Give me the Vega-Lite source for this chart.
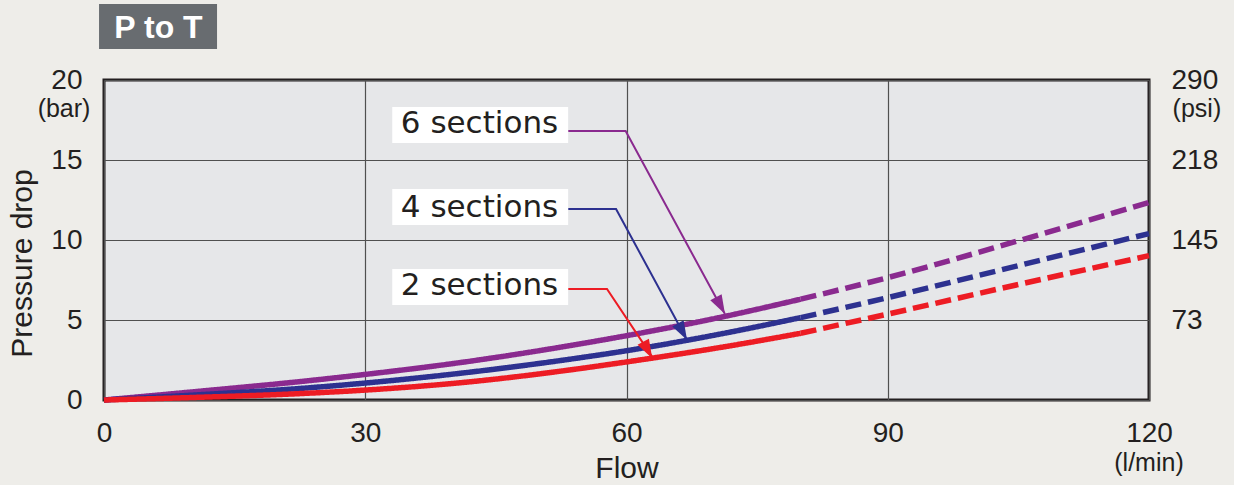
{
  "$schema": "https://vega.github.io/schema/vega-lite/v6.json",
  "width": 1045,
  "height": 320,
  "autosize": "none",
  "padding": {"left": 104, "top": 80, "right": 85, "bottom": 85},
  "background": "#eeede9",
  "datasets": {
    "curves": [
      {"section": "6 sections", "part": "measured", "flow": 0, "drop": 0},
      {"section": "6 sections", "part": "measured", "flow": 11, "drop": 0.55},
      {"section": "6 sections", "part": "measured", "flow": 22.5, "drop": 1.15},
      {"section": "6 sections", "part": "measured", "flow": 30, "drop": 1.6},
      {"section": "6 sections", "part": "measured", "flow": 41.7, "drop": 2.4},
      {"section": "6 sections", "part": "measured", "flow": 53.5, "drop": 3.4},
      {"section": "6 sections", "part": "measured", "flow": 60, "drop": 4.02},
      {"section": "6 sections", "part": "measured", "flow": 71.5, "drop": 5.25},
      {"section": "6 sections", "part": "measured", "flow": 80, "drop": 6.3},
      {"section": "6 sections", "part": "extrapolated", "flow": 80, "drop": 6.3},
      {"section": "6 sections", "part": "extrapolated", "flow": 90, "drop": 7.65},
      {"section": "6 sections", "part": "extrapolated", "flow": 105, "drop": 9.95},
      {"section": "6 sections", "part": "extrapolated", "flow": 120, "drop": 12.35},
      {"section": "4 sections", "part": "measured", "flow": 0, "drop": 0},
      {"section": "4 sections", "part": "measured", "flow": 11, "drop": 0.33},
      {"section": "4 sections", "part": "measured", "flow": 22.5, "drop": 0.72},
      {"section": "4 sections", "part": "measured", "flow": 30, "drop": 1.06},
      {"section": "4 sections", "part": "measured", "flow": 41.7, "drop": 1.72},
      {"section": "4 sections", "part": "measured", "flow": 53.5, "drop": 2.55},
      {"section": "4 sections", "part": "measured", "flow": 60, "drop": 3.08},
      {"section": "4 sections", "part": "measured", "flow": 71.5, "drop": 4.2},
      {"section": "4 sections", "part": "measured", "flow": 80, "drop": 5.15},
      {"section": "4 sections", "part": "extrapolated", "flow": 80, "drop": 5.15},
      {"section": "4 sections", "part": "extrapolated", "flow": 90, "drop": 6.4},
      {"section": "4 sections", "part": "extrapolated", "flow": 105, "drop": 8.4},
      {"section": "4 sections", "part": "extrapolated", "flow": 120, "drop": 10.4},
      {"section": "2 sections", "part": "measured", "flow": 0, "drop": 0},
      {"section": "2 sections", "part": "measured", "flow": 11, "drop": 0.17},
      {"section": "2 sections", "part": "measured", "flow": 22.5, "drop": 0.4},
      {"section": "2 sections", "part": "measured", "flow": 30, "drop": 0.62},
      {"section": "2 sections", "part": "measured", "flow": 41.7, "drop": 1.12},
      {"section": "2 sections", "part": "measured", "flow": 53.5, "drop": 1.88},
      {"section": "2 sections", "part": "measured", "flow": 60, "drop": 2.38},
      {"section": "2 sections", "part": "measured", "flow": 71.5, "drop": 3.35},
      {"section": "2 sections", "part": "measured", "flow": 80, "drop": 4.17},
      {"section": "2 sections", "part": "extrapolated", "flow": 80, "drop": 4.17},
      {"section": "2 sections", "part": "extrapolated", "flow": 90, "drop": 5.37},
      {"section": "2 sections", "part": "extrapolated", "flow": 105, "drop": 7.22},
      {"section": "2 sections", "part": "extrapolated", "flow": 120, "drop": 9.02}
    ],
    "leaders": [
      {"section": "6 sections", "step": 1, "flow": 53.3, "drop": 16.81},
      {"section": "6 sections", "step": 2, "flow": 59.9, "drop": 16.81},
      {"section": "6 sections", "step": 3, "flow": 71.3, "drop": 5.37},
      {"section": "4 sections", "step": 1, "flow": 53.3, "drop": 11.94},
      {"section": "4 sections", "step": 2, "flow": 58.8, "drop": 11.94},
      {"section": "4 sections", "step": 3, "flow": 66.95, "drop": 3.75},
      {"section": "2 sections", "step": 1, "flow": 53.3, "drop": 6.94},
      {"section": "2 sections", "step": 2, "flow": 57.76, "drop": 6.94},
      {"section": "2 sections", "step": 3, "flow": 63.05, "drop": 2.62}
    ],
    "tips": [
      {"section": "6 sections", "flow": 70.79, "drop": 5.9},
      {"section": "4 sections", "flow": 66.43, "drop": 4.27},
      {"section": "2 sections", "flow": 62.44, "drop": 3.12}
    ],
    "labels": [
      {"section": "6 sections", "x1": 33.1, "x2": 53.3, "y1": 16.06, "y2": 18.31, "tx": 43.12, "ty": 16.67},
      {"section": "4 sections", "x1": 33.1, "x2": 53.3, "y1": 10.94, "y2": 13.19, "tx": 43.12, "ty": 11.46},
      {"section": "2 sections", "x1": 33.1, "x2": 53.3, "y1": 5.94, "y2": 8.19, "tx": 43.12, "ty": 6.56}
    ],
    "units": [
      {"unit": "(bar)", "flow": -4.59, "drop": 18.2},
      {"unit": "(psi)", "flow": 125.5, "drop": 18.2},
      {"unit": "(l/min)", "flow": 120, "drop": -3.96}
    ],
    "heading": [
      {"text": "P to T", "x1": -0.57, "x2": 12.98, "y1": 21.94, "y2": 24.75, "tx": 6.26, "ty": 22.6}
    ]
  },
  "config": {
    "font": "Liberation Sans",
    "view": {"fill": "#e6e7e9", "stroke": "#231f20", "strokeWidth": 3},
    "axis": {
      "labelFont": "Liberation Sans",
      "labelFontSize": 28,
      "labelColor": "#231f20",
      "titleFont": "Liberation Sans",
      "titleFontSize": 30,
      "titleFontWeight": "normal",
      "titleColor": "#231f20",
      "ticks": false,
      "tickSize": 0,
      "domain": false,
      "gridColor": "#505050",
      "gridWidth": 1.2,
      "gridOpacity": 1
    }
  },
  "resolve": {"axis": {"y": "independent"}},
  "layer": [
    {
      "data": {"name": "curves"},
      "mark": {"type": "line", "strokeWidth": 5.5, "interpolate": "monotone", "strokeCap": "butt"},
      "encoding": {
        "x": {
          "field": "flow", "type": "quantitative",
          "scale": {"domain": [0, 120], "nice": false},
          "axis": {"values": [0, 30, 60, 90, 120], "grid": true, "title": "Flow", "labelPadding": 19, "titlePadding": 6, "labelFlush": false}
        },
        "y": {
          "field": "drop", "type": "quantitative",
          "scale": {"domain": [0, 20], "nice": false},
          "axis": {"values": [0, 5, 10, 15, 20], "grid": true, "title": "Pressure drop", "labelPadding": 22, "titleX": -82, "titleY": 183, "titleBaseline": "middle", "labelFlush": false}
        },
        "color": {
          "field": "section", "type": "nominal", "legend": null,
          "scale": {"domain": ["6 sections", "4 sections", "2 sections"], "range": ["#8a2a8f", "#2d3190", "#ed1c24"]}
        },
        "strokeDash": {
          "field": "part", "type": "nominal", "legend": null,
          "scale": {"domain": ["measured", "extrapolated"], "range": [[1, 0], [16, 7]]}
        },
        "order": {"field": "flow", "type": "quantitative"}
      }
    },
    {
      "data": {"name": "leaders"},
      "mark": {"type": "line", "strokeWidth": 2},
      "encoding": {
        "x": {"field": "flow", "type": "quantitative", "scale": {"domain": [0, 120], "nice": false}},
        "y": {"field": "drop", "type": "quantitative", "scale": {"domain": [0, 20], "nice": false}, "axis": null},
        "color": {"field": "section", "type": "nominal", "legend": null},
        "order": {"field": "step", "type": "quantitative"}
      }
    },
    {
      "data": {"name": "tips"},
      "mark": {"type": "point", "filled": true, "opacity": 1, "size": 361, "shape": "M-0.68,-1L0.68,-1L0,1Z"},
      "encoding": {
        "x": {"field": "flow", "type": "quantitative", "scale": {"domain": [0, 120], "nice": false}},
        "y": {
          "field": "drop", "type": "quantitative",
          "scale": {"domain": [0, 20], "nice": false},
          "axis": {
            "orient": "right", "values": [5, 10, 15, 20], "grid": false, "title": null, "labelPadding": 22, "labelAlign": "left",
            "labelExpr": "datum.value == 20 ? '290' : datum.value == 15 ? '218' : datum.value == 10 ? '145' : datum.value == 5 ? '73' : ''"
          }
        },
        "color": {"field": "section", "type": "nominal", "legend": null},
        "angle": {
          "field": "section", "type": "nominal", "legend": null,
          "scale": {"domain": ["6 sections", "4 sections", "2 sections"], "range": [-28.4, -28.5, -33.7]}
        }
      }
    },
    {
      "data": {"name": "labels"},
      "mark": {"type": "rect", "fill": "#ffffff"},
      "encoding": {
        "x": {"field": "x1", "type": "quantitative", "scale": {"domain": [0, 120], "nice": false}},
        "x2": {"field": "x2"},
        "y": {"field": "y1", "type": "quantitative", "scale": {"domain": [0, 20], "nice": false}, "axis": null},
        "y2": {"field": "y2"}
      }
    },
    {
      "data": {"name": "labels"},
      "mark": {"type": "text", "font": "DejaVu Sans", "fontSize": 31, "color": "#231f20", "align": "center", "baseline": "alphabetic"},
      "encoding": {
        "x": {"field": "tx", "type": "quantitative", "scale": {"domain": [0, 120], "nice": false}},
        "y": {"field": "ty", "type": "quantitative", "scale": {"domain": [0, 20], "nice": false}, "axis": null},
        "text": {"field": "section"}
      }
    },
    {
      "data": {"name": "units"},
      "mark": {"type": "text", "fontSize": 25, "color": "#231f20", "align": "center", "baseline": "middle"},
      "encoding": {
        "x": {"field": "flow", "type": "quantitative", "scale": {"domain": [0, 120], "nice": false}},
        "y": {"field": "drop", "type": "quantitative", "scale": {"domain": [0, 20], "nice": false}, "axis": null},
        "text": {"field": "unit"}
      }
    },
    {
      "data": {"name": "heading"},
      "mark": {"type": "rect", "fill": "#686c70"},
      "encoding": {
        "x": {"field": "x1", "type": "quantitative", "scale": {"domain": [0, 120], "nice": false}},
        "x2": {"field": "x2"},
        "y": {"field": "y1", "type": "quantitative", "scale": {"domain": [0, 20], "nice": false}, "axis": null},
        "y2": {"field": "y2"}
      }
    },
    {
      "data": {"name": "heading"},
      "mark": {"type": "text", "fontSize": 32, "fontWeight": "bold", "color": "#ffffff", "align": "center", "baseline": "alphabetic"},
      "encoding": {
        "x": {"field": "tx", "type": "quantitative", "scale": {"domain": [0, 120], "nice": false}},
        "y": {"field": "ty", "type": "quantitative", "scale": {"domain": [0, 20], "nice": false}, "axis": null},
        "text": {"field": "text"}
      }
    }
  ]
}
